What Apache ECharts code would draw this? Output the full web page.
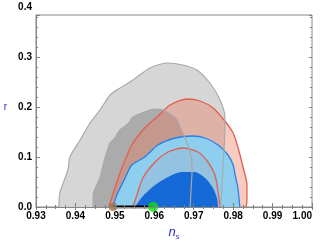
<!DOCTYPE html>
<html>
<head>
<meta charset="utf-8">
<script src="https://cdn.jsdelivr.net/npm/echarts@6/dist/echarts.min.js"></script>
<style>
html,body{margin:0;padding:0;background:#fff;}
#chart{width:324px;height:243px;}
</style>
</head>
<body>
<div id="chart"></div>
<script>
// Tick labels
const xTickLabels = ['0.93','0.94','0.95','0.96','0.97','0.98','0.99','1.00'];
const yTickLabels = ['0.0','0.1','0.2','0.3','0.4'];

// Contours: [n_s, r]
const grayOuter = [[0.9358,0],[0.9361,0.030],[0.9381,0.074],[0.9386,0.100],[0.9412,0.134],[0.9437,0.168],[0.9462,0.194],[0.9488,0.224],[0.9505,0.234],[0.9546,0.254],[0.9589,0.278],[0.9632,0.288],[0.9673,0.284],[0.9708,0.274],[0.9741,0.248],[0.9767,0.214],[0.9779,0.180],[0.9779,0.154],[0.9777,0.114],[0.9772,0.048],[0.9769,0]];
const grayInner = [[0.9445,0],[0.9445,0.024],[0.9462,0.058],[0.9475,0.098],[0.9488,0.128],[0.9500,0.138],[0.9513,0.154],[0.9533,0.166],[0.9546,0.180],[0.9589,0.194],[0.9609,0.196],[0.9632,0.190],[0.9658,0.174],[0.9668,0.154],[0.9678,0.138],[0.9691,0.110],[0.9696,0.078],[0.9693,0.030],[0.9691,0]];
const redOuter = [[0.9485,0],[0.9500,0.038],[0.9518,0.078],[0.9543,0.124],[0.9569,0.152],[0.9586,0.166],[0.9607,0.180],[0.9640,0.204],[0.9683,0.216],[0.9716,0.212],[0.9749,0.198],[0.9779,0.172],[0.9800,0.148],[0.9812,0.120],[0.9825,0.080],[0.9835,0.044],[0.9835,0.014],[0.9833,0]];
const blueOuter = [[0.9495,0],[0.9505,0.024],[0.9526,0.058],[0.9543,0.084],[0.9576,0.100],[0.9609,0.124],[0.9653,0.138],[0.9696,0.142],[0.9729,0.138],[0.9762,0.124],[0.9787,0.104],[0.9800,0.084],[0.9805,0.064],[0.9812,0.038],[0.9817,0]];
const redInner = [[0.9546,0],[0.9556,0.024],[0.9571,0.058],[0.9602,0.090],[0.9635,0.110],[0.9673,0.118],[0.9711,0.110],[0.9736,0.090],[0.9754,0.064],[0.9762,0.030],[0.9767,0]];
const blueInner = [[0.9551,0],[0.9569,0.020],[0.9602,0.044],[0.9645,0.064],[0.9670,0.070],[0.9703,0.070],[0.9729,0.058],[0.9749,0.038],[0.9759,0.018],[0.9762,0]];

// Model predictions
const segment = [[0.9495,0],[0.9597,0]];
const brownPoint = [[0.9495,0]];
const greenPoint = [[0.9597,0]];

const chart = echarts.init(document.getElementById('chart'), null, {renderer:'canvas'});
const FONT = "'Liberation Sans', Arial, sans-serif";
const tickColor = '#808080';

function area(data, fill, lineColor, lineWidth, z){
  return {
    type:'line', data:data, xAxisIndex:0, yAxisIndex:0, symbol:'none', showSymbol:false,
    smooth:0.25, z:z, silent:true,
    lineStyle:{color:lineColor, width:lineWidth},
    areaStyle:{color:fill, opacity:1, origin:'start'}
  };
}
function outline(data, color, width, z){
  return {
    type:'line', data:data, xAxisIndex:0, yAxisIndex:0, symbol:'none', showSymbol:false,
    smooth:0.25, z:z, silent:true,
    lineStyle:{color:color, width:width}
  };
}

const option = {
  animation:false,
  backgroundColor:'#ffffff',
  grid:[
    {left:36, right:12, top:15, bottom:36, show:true, borderColor:'#888', borderWidth:1, backgroundColor:'transparent', outerBoundsMode:'none', containLabel:false},
    {left:36, right:12, top:7, bottom:36, show:false, outerBoundsMode:'none', containLabel:false}
  ],
  xAxis:[
    {type:'value', gridIndex:0, position:'bottom', min:0.93, max:1.0, interval:0.01, z:10,
     axisLine:{show:true, onZero:false, lineStyle:{color:'#888', width:1}},
     axisTick:{show:true, inside:true, length:4, lineStyle:{color:tickColor}},
     minorTick:{show:true, splitNumber:4, length:2, lineStyle:{color:tickColor}},
     splitLine:{show:false},
     axisLabel:{show:true, margin:4, color:'#000', fontSize:10, fontWeight:700, fontFamily:FONT,
       alignMaxLabel:'right',
       formatter:function(v){ const i=Math.round((v-0.93)/0.01); return xTickLabels[i]!==undefined?xTickLabels[i]:''; }},
     name:'{n|n}{s|s}', nameLocation:'middle', nameGap:16,
     nameTextStyle:{rich:{
       n:{fontSize:13, fontStyle:'italic', color:'#2a2ad6', fontFamily:FONT, lineHeight:16},
       s:{fontSize:8, fontStyle:'italic', color:'#2a2ad6', fontFamily:FONT, verticalAlign:'bottom', lineHeight:16}
     }}
    },
    {type:'value', gridIndex:0, position:'top', min:0.93, max:1.0, interval:0.01, z:10,
     axisLine:{show:false},
     axisTick:{show:true, inside:true, length:3, lineStyle:{color:tickColor}},
     minorTick:{show:true, splitNumber:4, length:2, lineStyle:{color:tickColor}},
     splitLine:{show:false}, axisLabel:{show:false}},
    {type:'value', gridIndex:1, min:0.93, max:1.0, show:false}
  ],
  yAxis:[
    {type:'value', gridIndex:0, position:'left', min:0, max:0.384, interval:0.1, z:10,
     axisLine:{show:true, onZero:false, lineStyle:{color:'#888', width:1}},
     axisTick:{show:true, inside:true, length:4, lineStyle:{color:tickColor}},
     minorTick:{show:true, splitNumber:5, length:2, lineStyle:{color:tickColor}},
     splitLine:{show:false}, axisLabel:{show:false}},
    {type:'value', gridIndex:0, position:'right', min:0, max:0.384, interval:0.1, z:10,
     axisLine:{show:false},
     axisTick:{show:true, inside:true, length:3, lineStyle:{color:tickColor}},
     minorTick:{show:true, splitNumber:5, length:2, lineStyle:{color:tickColor}},
     splitLine:{show:false}, axisLabel:{show:false}},
    {type:'value', gridIndex:1, position:'left', min:0, max:0.4, interval:0.1,
     axisLine:{show:false}, axisTick:{show:false}, splitLine:{show:false},
     axisLabel:{show:true, margin:4, color:'#000', fontSize:10, fontWeight:700, fontFamily:FONT,
       formatter:function(v){ const i=Math.round(v/0.1); return yTickLabels[i]!==undefined?yTickLabels[i]:''; }},
     name:'r', nameLocation:'middle', nameRotate:0, nameGap:29,
     nameTextStyle:{color:'#2a2ad6', fontSize:10, fontFamily:FONT}}
  ],
  series:[
    area(grayOuter, '#d6d6d6', 'rgba(0,0,0,0)', 0, 2),
    area(grayInner, '#ababab', 'rgba(0,0,0,0)', 0, 3),
    area(redOuter, 'rgba(234,125,98,0.4)', '#e0604e', 1.3, 4),
    area(blueOuter, '#8ecff0', '#2a7fe6', 1.3, 5),
    area(redInner, 'rgba(180,130,140,0.15)', '#e0604e', 1.3, 6),
    area(blueInner, '#156ad8', 'rgba(0,0,0,0)', 0, 7),
    outline(grayOuter, '#aaaaaa', 1.2, 8),
    outline(grayInner, '#a8a8a8', 1.2, 8),
    {type:'line', data:segment, xAxisIndex:0, yAxisIndex:0, symbol:'none', z:9, silent:true,
     lineStyle:{color:'#000', width:3}},
    {type:'scatter', data:brownPoint, xAxisIndex:0, yAxisIndex:0, symbolSize:8, z:9, silent:true,
     itemStyle:{color:'#a8723c'}},
    {type:'scatter', data:greenPoint, xAxisIndex:0, yAxisIndex:0, symbolSize:10, z:9, silent:true,
     itemStyle:{color:'#00ee00'}}
  ]
};
chart.setOption(option);
</script>
</body>
</html>
